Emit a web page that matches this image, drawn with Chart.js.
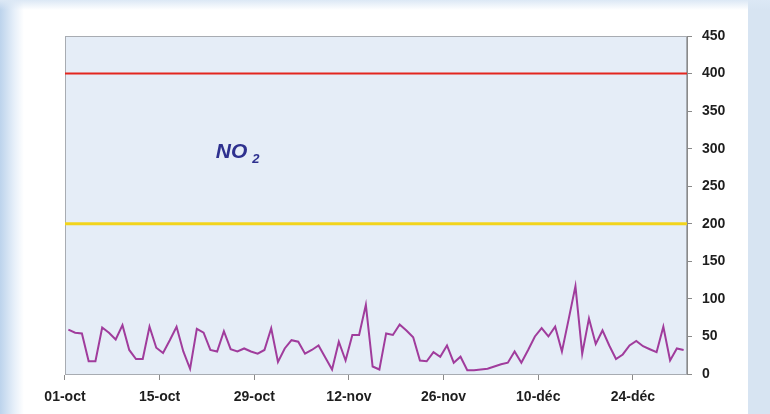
<!DOCTYPE html>
<html>
<head>
<meta charset="utf-8">
<script src="https://cdn.jsdelivr.net/npm/chart.js@4/dist/chart.umd.min.js"></script>
<style>
  html, body { margin: 0; padding: 0; }
  body { width: 770px; height: 414px; position: relative; overflow: hidden; background: #d7e4f2; }
  #panel {
    position: absolute; left: 0; top: 0; width: 748px; height: 414px;
    background: linear-gradient(to right, #bcd3ec 0px, #e6eff9 14px, #ffffff 24px);
  }
  #topstrip {
    position: absolute; left: 0; top: 0; width: 770px; height: 10px;
    background: linear-gradient(to bottom, #dce8f5, rgba(255,255,255,0));
  }
  #wrap { position: absolute; left: 0; top: 0; width: 770px; height: 414px; }
</style>
</head>
<body>
<div id="panel"></div>
<div id="topstrip"></div>
<div id="wrap"><canvas id="c"></canvas></div>
<script>
// daily NO2 values, 01-oct .. 31-déc
const months = ["oct", "nov", "déc"];
const monthDays = [31, 30, 31];
const no2 = [
  59, 55, 54, 17, 17, 62, 55, 46, 65, 32,
  20, 20, 63, 35, 28, 45, 63, 30, 7, 60,
  55, 32, 30, 57, 33, 30, 34, 30, 27, 32,
  61, 16, 34, 45, 43, 27, 32, 38, 22, 6,
  43, 18, 52, 52, 92, 10, 6, 54, 52, 66,
  58, 49, 18, 17, 29, 23, 38, 15, 23, 5,
  5, 6, 7, 10, 13, 15, 30, 15, 32, 50,
  61, 50, 63, 30, 73, 117, 27, 74, 40, 58,
  38, 20, 26, 38, 44, 37, 33, 29, 63, 18,
  34, 32
];
const limits = [400, 200];
const limitColors = ["#e3261f", "#f2d41c"];
const yTicks = [0, 50, 100, 150, 200, 250, 300, 350, 400, 450];
const tickEvery = 14;
const noteText = ["NO", "2"];
const notePos = [21.8, 287]; // day index, value

const labels = [];
months.forEach((m, i) => {
  for (let d = 1; d <= monthDays[i]; d++) labels.push(String(d).padStart(2, "0") + "-" + m);
});

const plotBg = {
  id: "plotBg",
  beforeDraw(chart) {
    const { ctx, chartArea: a } = chart;
    ctx.save();
    ctx.fillStyle = "#e5edf7";
    ctx.fillRect(a.left, a.top, a.right - a.left, a.bottom - a.top);
    ctx.strokeStyle = "#a8acb2";
    ctx.lineWidth = 1;
    ctx.strokeRect(a.left + 0.5, a.top + 0.5, a.right - a.left - 1, a.bottom - a.top);
    ctx.restore();
  },
  beforeDatasetsDraw(chart) {
    const { ctx, chartArea: a, scales } = chart;
    ctx.save();
    limits.forEach((v, i) => {
      const y = scales.y.getPixelForValue(v);
      ctx.strokeStyle = limitColors[i];
      ctx.lineWidth = i === 0 ? 2 : 3;
      ctx.beginPath();
      ctx.moveTo(a.left, y);
      ctx.lineTo(a.right, y);
      ctx.stroke();
    });
    const x = scales.x.getPixelForValue(notePos[0]);
    const y = scales.y.getPixelForValue(notePos[1]);
    ctx.fillStyle = "#2e318f";
    ctx.font = "italic bold 21px 'Liberation Sans', Arial, sans-serif";
    ctx.textBaseline = "alphabetic";
    ctx.fillText(noteText[0], x, y);
    const w = ctx.measureText(noteText[0]).width;
    ctx.font = "italic bold 13px 'Liberation Sans', Arial, sans-serif";
    ctx.fillText(noteText[1], x + w + 5, y + 5);
    ctx.restore();
  }
};

new Chart(document.getElementById("c"), {
  type: "line",
  data: {
    labels: labels,
    datasets: [{
      data: no2,
      borderColor: "#a03c9c",
      borderWidth: 2,
      pointRadius: 0,
      tension: 0,
      fill: false
    }]
  },
  options: {
    responsive: true,
    maintainAspectRatio: false,
    animation: false,
    layout: { padding: { left: 65, right: 30, top: 36, bottom: 5 } },
    plugins: { legend: { display: false }, tooltip: { enabled: false } },
    scales: {
      x: {
        offset: true,
        border: { display: true, color: "#a8acb2" },
        grid: {
          offset: true,
          drawOnChartArea: false,
          tickLength: 6,
          color: ctx => (ctx.index % tickEvery === 0 ? "#8a8a8a" : "rgba(0,0,0,0)")
        },
        ticks: {
          autoSkip: false,
          maxRotation: 0,
          padding: 9,
          labelOffset: -3.4,
          color: "#1e1e1e",
          font: { family: "'Liberation Sans', Arial", size: 14, weight: "bold" },
          callback: (v, i) => (i % tickEvery === 0 ? labels[i] : "")
        },
        afterFit: s => { s.height = 35; }
      },
      y: {
        position: "right",
        min: 0,
        max: 450,
        border: { display: true, color: "#8a8a8a" },
        grid: { drawOnChartArea: false, tickLength: 5, color: "#8a8a8a" },
        afterBuildTicks: s => { s.ticks = yTicks.map(v => ({ value: v })); },
        ticks: {
          padding: 10,
          color: "#1e1e1e",
          font: { family: "'Liberation Sans', Arial", size: 14, weight: "bold" }
        },
        afterFit: s => { s.width = 53; }
      }
    }
  },
  plugins: [plotBg]
});
</script>
</body>
</html>
